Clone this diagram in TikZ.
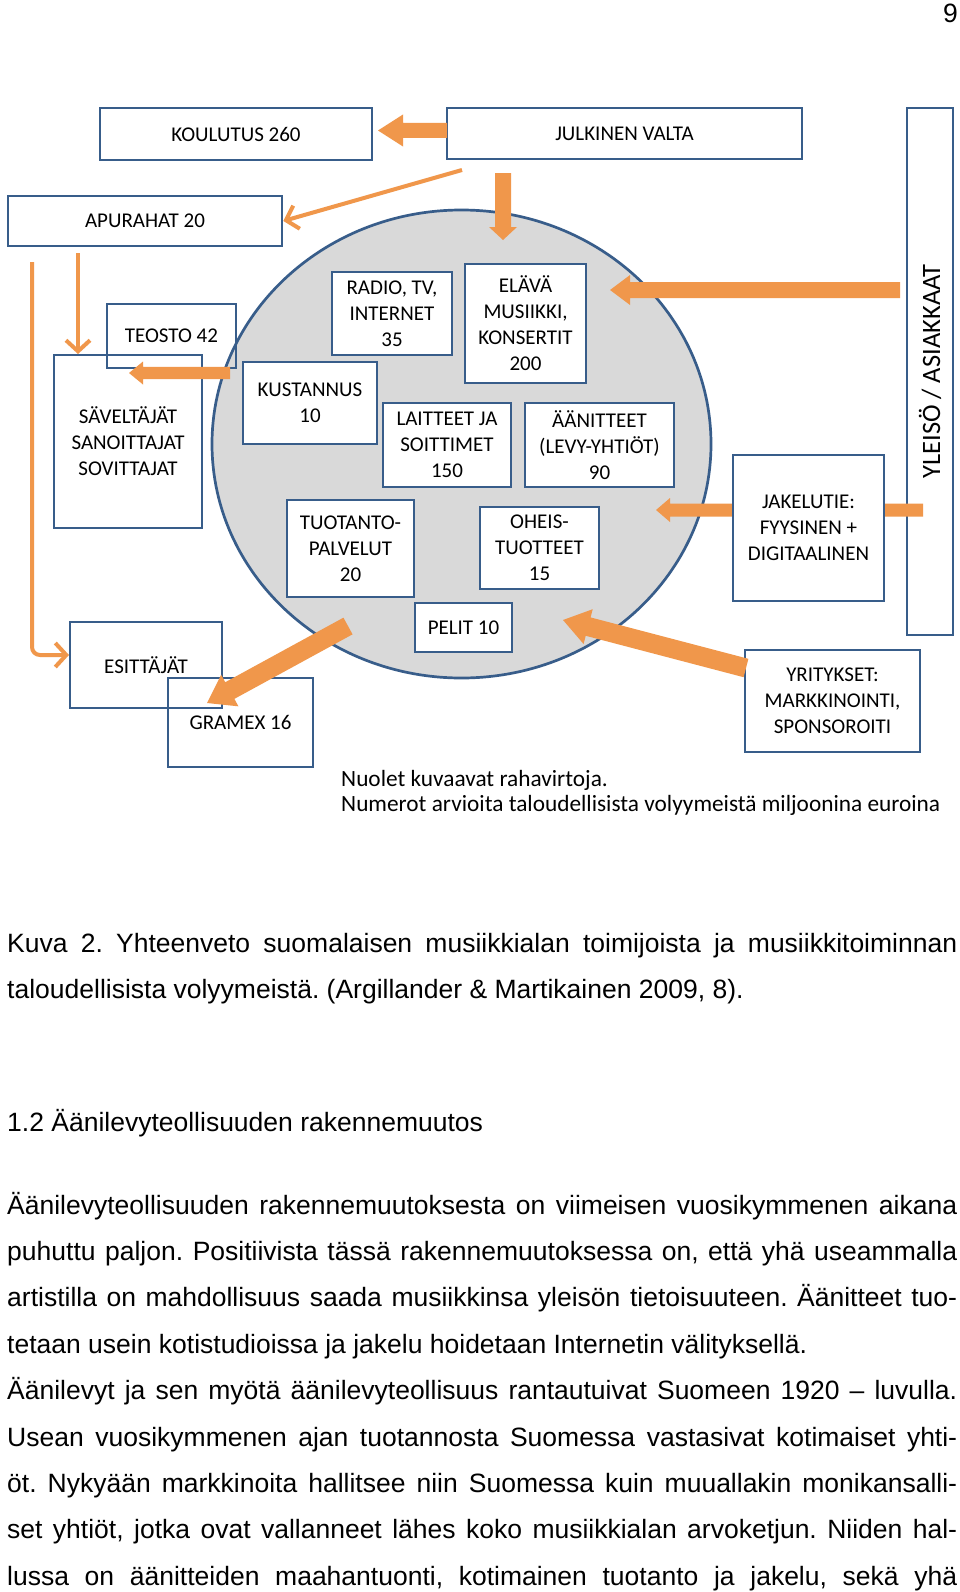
\documentclass[tikz,border=0pt]{standalone}
\usepackage{fontspec}
\usetikzlibrary{calc,arrows.meta,shapes.geometric}
\newfontfamily\bodyfont{Liberation Sans}
\newfontfamily\boxfont{Carlito}
\definecolor{arrowcol}{HTML}{F0974B}
\definecolor{boxblue}{HTML}{385D8A}
\definecolor{circfill}{HTML}{D9D9D9}
\frenchspacing
% #1 start, #2 tip, #3 half body width, #4 half head width, #5 head length
\newcommand\blockarrow[5]{%
  \coordinate (ba-h) at ($(#2)!#5pt!(#1)$);
  \fill[arrowcol] ($(#1)!#3pt!90:(#2)$) -- ($(ba-h)!#3pt!-90:(#1)$) -- ($(ba-h)!#4pt!-90:(#1)$) -- (#2)
    -- ($(ba-h)!#4pt!90:(#1)$) -- ($(ba-h)!#3pt!90:(#1)$) -- ($(#1)!#3pt!-90:(#2)$) -- cycle;}
\begin{document}
\begin{tikzpicture}[x=1pt,y=-1pt,
  box/.style={draw=boxblue, line width=2.7pt, fill=white, inner sep=0pt, align=center,
    font=\boxfont\fontsize{21}{26}\selectfont},
  openbox/.style={box, fill=none},
  thinarrow/.style={draw=arrowcol, line width=4pt, -{Straight Barb[length=11pt,width=24pt]}},
  bodyline/.style={anchor=base west, inner sep=0pt, font=\bodyfont\frenchspacing\fontsize{26.5}{46}\selectfont},
  notetext/.style={anchor=base west, inner sep=0pt, font=\boxfont\fontsize{23.3}{28}\selectfont}
]
\useasboundingbox (0,0) rectangle (960,1592);
\fill[white] (0,0) rectangle (960,1592);

% page number
\node[bodyline, anchor=base east] (pagenum) at (958,23) {9};

% central ellipse
\node[ellipse, draw=boxblue, line width=2.7pt, fill=circfill, minimum width=499pt, minimum height=468pt, inner sep=0pt] (market) at (461.5,444) {};

% top boxes
\node[box, minimum width=272pt, minimum height=52pt] (koulutus) at (236,134) {KOULUTUS 260};
\node[box, minimum width=355pt, minimum height=51pt] (julkinen) at (624.5,133.5) {JULKINEN VALTA};
\node[box, minimum width=274pt, minimum height=50pt] (apurahat) at (145,221) {APURAHAT 20};

% boxes inside the ellipse
\node[box, minimum width=120pt, minimum height=83pt] (radio) at (392,313.5) {RADIO, TV,\\INTERNET\\35};
\node[box, minimum width=121pt, minimum height=119pt] (elava) at (525.5,323.5) {ELÄVÄ\\MUSIIKKI,\\KONSERTIT\\200};
\node[box, minimum width=134pt, minimum height=82pt] (kustannus) at (310,403) {KUSTANNUS\\10};
\node[box, minimum width=128pt, minimum height=84pt] (laitteet) at (447,445) {LAITTEET JA\\SOITTIMET\\150};
\node[box, minimum width=149pt, minimum height=84pt] (aanitteet) at (599.5,445) {ÄÄNITTEET\\(LEVY-YHTIÖT)\\90};
\node[box, minimum width=127pt, minimum height=97pt] (tuotanto) at (350.5,548.5) {TUOTANTO-\\PALVELUT\\20};
\node[box, minimum width=119pt, minimum height=82pt] (oheis) at (539.5,548) {OHEIS-\\TUOTTEET\\15};
\node[box, minimum width=97pt, minimum height=49pt] (pelit) at (463.5,627.5) {PELIT 10};

% left side boxes (transparent, overlapping)
\node[openbox, minimum width=129pt, minimum height=64pt] (teosto) at (171.5,336) {TEOSTO 42};
\node[openbox, minimum width=148pt, minimum height=173pt] (saveltajat) at (128,441.5) {SÄVELTÄJÄT\\SANOITTAJAT\\SOVITTAJAT};
\node[openbox, minimum width=152pt, minimum height=86pt] (esittajat) at (146,665) {ESITTÄJÄT};
\node[openbox, minimum width=145pt, minimum height=89pt] (gramex) at (240.5,722.5) {GRAMEX 16};

% right side
\node[box, rotate=90, minimum width=527pt, minimum height=46pt, font=\boxfont\fontsize{26.5}{30}\selectfont] (yleiso) at (930,371.5) {YLEISÖ / ASIAKKAAT};
\node[box, minimum width=175pt, minimum height=102pt] (yritykset) at (832.5,701) {YRITYKSET:\\MARKKINOINTI,\\SPONSOROITI};

% arrow end points
\coordinate (aA1) at (447,130.5); \coordinate (aA2) at (378,130.5);
\coordinate (aB1) at (503,173);   \coordinate (aB2) at (503,240);
\coordinate (aC1) at (230,373);   \coordinate (aC2) at (129,373);
\coordinate (aD1) at (900,290);   \coordinate (aD2) at (610,290);
\coordinate (aE1) at (923,510);   \coordinate (aE2) at (656,510);
\coordinate (aF1) at (348,626);   \coordinate (aF2) at (207,703);
\coordinate (aG1) at (746,668);   \coordinate (aG2) at (563,620);
\coordinate (t1) at (462,170);
\coordinate (t2a) at (78,253);    \coordinate (t2b) at (78,354);
\coordinate (t3a) at (32,262);    \coordinate (t3b) at (32,655);  \coordinate (t3c) at (69,655);

% block arrows
\blockarrow{aA1}{aA2}{7.5}{16}{25}
\blockarrow{aB1}{aB2}{8}{14}{13}
\blockarrow{aC1}{aC2}{6.2}{11.5}{14}
\blockarrow{aD1}{aD2}{8}{15}{20}
\blockarrow{aE1}{aE2}{6.5}{12}{14}
\blockarrow{aF1}{aF2}{9.5}{18}{26}
\blockarrow{aG1}{aG2}{9.5}{18}{26}

% jakelutie on top of its arrow
\node[box, minimum width=151pt, minimum height=146pt] (jakelutie) at (808.5,528) {JAKELUTIE:\\FYYSINEN +\\DIGITAALINEN};

% thin arrows
\draw[thinarrow] (t1) -- (apurahat.east);
\draw[thinarrow] (t2a) -- (t2b);
\draw[thinarrow, rounded corners=8pt] (t3a) -- (t3b) -- (t3c);

% note
\node[notetext] (note1) at (341,786) {Nuolet kuvaavat rahavirtoja.};
\node[notetext] (note2) at (341,811) {Numerot arvioita taloudellisista volyymeistä miljoonina euroina};

% caption
\node[bodyline] (cap1) at (7,952) {\makebox[950pt][s]{Kuva 2. Yhteenveto suomalaisen musiikkialan toimijoista ja musiikkitoiminnan}};
\node[bodyline] (cap2) at (7,998) {taloudellisista volyymeistä. (Argillander \& Martikainen 2009, 8).};

% heading
\node[bodyline] (head) at (7,1131) {1.2 Äänilevyteollisuuden rakennemuutos};

% paragraph
\node[bodyline] (p1) at (7,1214) {\makebox[950pt][s]{Äänilevyteollisuuden rakennemuutoksesta on viimeisen vuosikymmenen aikana}};
\node[bodyline] (p2) at (7,1260.4) {\makebox[950pt][s]{puhuttu paljon. Positiivista tässä rakennemuutoksessa on, että yhä useammalla}};
\node[bodyline] (p3) at (7,1306.8) {\makebox[950pt][s]{artistilla on mahdollisuus saada musiikkinsa yleisön tietoisuuteen. Äänitteet tuo-}};
\node[bodyline] (p4) at (7,1353.2) {tetaan usein kotistudioissa ja jakelu hoidetaan Internetin välityksellä.};
\node[bodyline] (p5) at (7,1399.6) {\makebox[950pt][s]{Äänilevyt ja sen myötä äänilevyteollisuus rantautuivat Suomeen 1920 – luvulla.}};
\node[bodyline] (p6) at (7,1446) {\makebox[950pt][s]{Usean vuosikymmenen ajan tuotannosta Suomessa vastasivat kotimaiset yhti-}};
\node[bodyline] (p7) at (7,1492.4) {\makebox[950pt][s]{öt. Nykyään markkinoita hallitsee niin Suomessa kuin muuallakin monikansalli-}};
\node[bodyline] (p8) at (7,1538.8) {\makebox[950pt][s]{set yhtiöt, jotka ovat vallanneet lähes koko musiikkialan arvoketjun. Niiden hal-}};
\node[bodyline] (p9) at (7,1585.2) {\makebox[950pt][s]{lussa on äänitteiden maahantuonti, kotimainen tuotanto ja jakelu, sekä yhä}};
\end{tikzpicture}
\end{document}
